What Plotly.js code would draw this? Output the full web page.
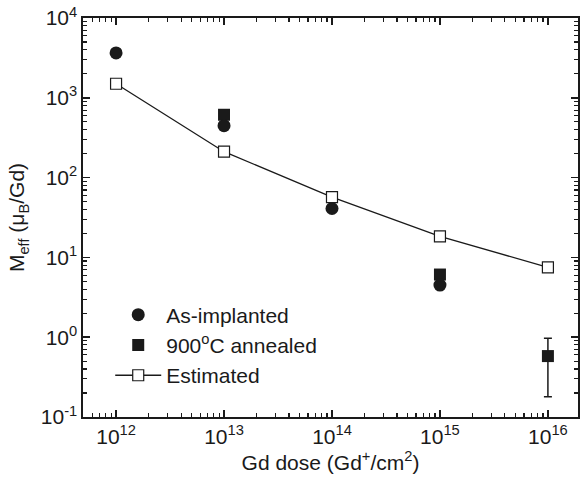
<!DOCTYPE html>
<html>
<head>
<meta charset="utf-8">
<script src="https://cdn.plot.ly/plotly-3.0.1.min.js"></script>
<style>html,body{margin:0;padding:0;background:#fff;}#chart{width:581px;height:479px;}</style>
</head>
<body>
<div id="chart"></div>
<script>
// Data
const doseEstimated = [1e12, 1e13, 1e14, 1e15, 1e16];
const valEstimated = [1500, 211, 57, 18.3, 7.5];

const doseImplanted = [1e12, 1e13, 1e14, 1e15];
const valImplanted = [3650, 447, 41, 4.5];

const doseAnnealed = [1e13, 1e15, 1e16];
const valAnnealed = [613, 6.1, 0.58];
const errAnnealedPlus = [0, 0, 0.39];
const errAnnealedMinus = [0, 0, 0.40];

// Tick labels
const xTickVals = [1e12, 1e13, 1e14, 1e15, 1e16];
const xTickText = ['10<sup>12</sup>', '10<sup>13</sup>', '10<sup>14</sup>', '10<sup>15</sup>', '10<sup>16</sup>'];
const yTickVals = [0.1, 1, 10, 100, 1000, 10000];
const yTickText = ['10<sup>-1</sup>', '10<sup>0</sup>', '10<sup>1</sup>', '10<sup>2</sup>', '10<sup>3</sup>', '10<sup>4</sup>'];

const nameImplanted = 'As-implanted';
const nameAnnealed = '900<sup>o</sup>C annealed';
const nameEstimated = 'Estimated';

const ink = '#1a1a1a';
const fontFam = '"Liberation Sans", Arial, Helvetica, sans-serif';

const traces = [
  {
    x: doseAnnealed, y: valAnnealed, name: nameAnnealed, mode: 'markers', type: 'scatter',
    legendrank: 2,
    marker: {symbol: 'square', size: 12, color: ink},
    error_y: {type: 'data', symmetric: false, array: errAnnealedPlus, arrayminus: errAnnealedMinus,
              color: ink, thickness: 1.5, width: 4}
  },
  {
    x: doseImplanted, y: valImplanted, name: nameImplanted, mode: 'markers', type: 'scatter',
    legendrank: 1,
    marker: {symbol: 'circle', size: 13, color: ink}
  },
  {
    x: doseEstimated, y: valEstimated, name: nameEstimated, mode: 'lines+markers', type: 'scatter',
    legendrank: 3,
    line: {color: ink, width: 1.3},
    marker: {symbol: 'square', size: 11, color: '#ffffff', line: {color: ink, width: 1.2}}
  }
];

const axisCommon = {
  type: 'log',
  showgrid: false, zeroline: false,
  showline: true, linecolor: ink, linewidth: 1.6, mirror: 'ticks',
  ticks: 'inside', ticklen: 7, tickwidth: 1.5, tickcolor: ink,
  tickmode: 'array',
  tickfont: {family: fontFam, size: 21, color: ink},
  minor: {ticks: 'inside', ticklen: 4, tickwidth: 1.1, tickcolor: ink, dtick: 'D1', showgrid: false}
};

const layout = {
  width: 581, height: 479,
  margin: {l: 83, r: 3, t: 18, b: 62},
  paper_bgcolor: '#ffffff', plot_bgcolor: '#ffffff',
  font: {family: fontFam, size: 21, color: ink},
  showlegend: true,
  legend: {x: 0.055, y: 0.307, xanchor: 'left', yanchor: 'top', bgcolor: 'rgba(0,0,0,0)',
           font: {family: fontFam, size: 21, color: ink}, tracegroupgap: 0, itemwidth: 46},
  xaxis: Object.assign({}, axisCommon, {
    range: [Math.log10(4.94e11), Math.log10(1.9e16)],
    tickvals: xTickVals, ticktext: xTickText,
    title: {text: 'Gd dose (Gd<sup>+</sup>/cm<sup>2</sup>)', font: {family: fontFam, size: 21, color: ink}, standoff: 3}
  }),
  yaxis: Object.assign({}, axisCommon, {
    range: [-1, 4],
    tickvals: yTickVals, ticktext: yTickText,
    title: {text: 'M<sub>eff</sub> (μ<sub>B</sub>/Gd)', font: {family: fontFam, size: 21, color: ink}, standoff: 10}
  })
};

Plotly.newPlot('chart', traces, layout, {displayModeBar: false, staticPlot: true});
</script>
</body>
</html>
